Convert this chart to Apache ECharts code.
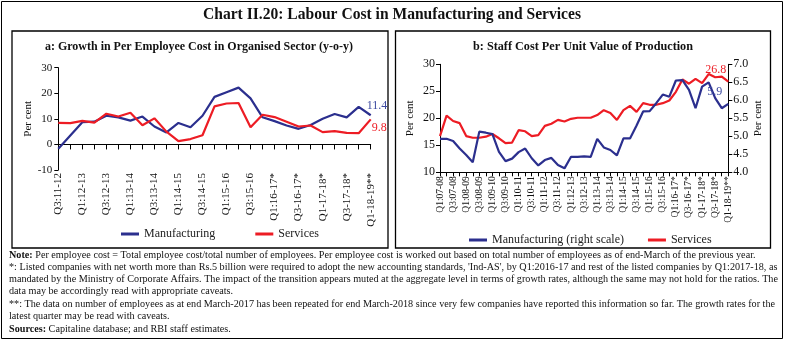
<!DOCTYPE html>
<html><head><meta charset="utf-8">
<script src="https://cdn.jsdelivr.net/npm/echarts@6/dist/echarts.min.js"></script>
<style>html,body{margin:0;padding:0;background:#fff}#c{width:785px;height:340px}</style>
</head><body><div id="c"></div>
<script>
// ---------- data ----------
const leftCategories = ['Q3:11-12','Q4:11-12','Q1:12-13','Q2:12-13','Q3:12-13','Q4:12-13','Q1:13-14','Q2:13-14','Q3:13-14','Q4:13-14','Q1:14-15','Q2:14-15','Q3:14-15','Q4:14-15','Q1:15-16','Q2:15-16','Q3:15-16','Q4:15-16','Q1:16-17*','Q2:16-17*','Q3-16-17*','Q4-16-17*','Q1-17-18*','Q2-17-18*','Q3-17-18*','Q4-17-18*','Q1-18-19**'];
const mfgGrowth = [-1.7,3.5,8.7,8.9,11.2,10.6,9.3,10.9,7.0,4.7,8.4,6.7,11.2,18.6,20.4,22.2,18.0,10.6,9.1,7.4,6.1,7.6,10.0,11.9,10.6,14.7,11.4];
const svcGrowth = [8.4,8.3,9.2,8.5,12.0,10.9,12.4,7.5,10.2,5.0,1.3,2.1,3.6,14.9,16.0,16.2,6.7,11.6,10.7,8.9,7.0,7.4,4.8,5.2,4.5,4.4,9.8];

const rightCategories = ['Q1:07-08','Q2:07-08','Q3:07-08','Q4:07-08','Q1:08-09','Q2:08-09','Q3:08-09','Q4:08-09','Q1:09-10','Q2:09-10','Q3:09-10','Q4:09-10','Q1:10-11','Q2:10-11','Q3:10-11','Q4:10-11','Q1:11-12','Q2:11-12','Q3:11-12','Q4:11-12','Q1:12-13','Q2:12-13','Q3:12-13','Q4:12-13','Q1:13-14','Q2:13-14','Q3:13-14','Q4:13-14','Q1:14-15','Q2:14-15','Q3:14-15','Q4:14-15','Q1:15-16','Q2:15-16','Q3:15-16','Q4:15-16','Q1:16-17*','Q2:16-17*','Q3-16-17*','Q4-16-17*','Q1-17-18*','Q2-17-18*','Q3-17-18*','Q4-17-18*','Q1-18-19**'];
const svcStaffCost = [16.7,20.5,19.5,19.1,16.7,16.4,16.4,16.6,17.1,16.3,15.4,15.5,17.8,17.6,16.7,16.9,18.6,19.0,19.7,19.4,19.9,20.1,20.1,20.1,20.6,21.5,21.0,19.7,21.5,22.3,21.2,22.8,22.5,22.5,22.8,23.3,24.9,27.2,26.4,27.3,26.5,28.2,27.6,27.7,26.8];
const mfgStaffCost = [4.93,4.93,4.87,4.66,4.48,4.28,5.13,5.10,5.06,4.57,4.31,4.38,4.56,4.66,4.39,4.19,4.34,4.40,4.20,4.11,4.43,4.43,4.44,4.43,4.93,4.69,4.62,4.47,4.94,4.94,5.30,5.69,5.70,5.92,6.16,6.10,6.55,6.56,6.29,5.78,6.38,6.50,6.06,5.78,5.9];

const leftYTicks = {min:-10, max:30, interval:10};
const rightYTicksL = {min:10, max:30, interval:5};
const rightYTicksR = {min:4.0, max:7.0, interval:0.5};

const titleText = 'Chart II.20: Labour Cost in Manufacturing and Services';
const panelATitle = 'a: Growth in Per Employee Cost in Organised Sector (y-o-y)';
const panelBTitle = 'b: Staff Cost Per Unit Value of Production';
const noteLines = [
  '{b|Note:} Per employee cost = Total employee cost/total number of employees. Per employee cost is worked out based on total number of employees as of end-March of the previous year.',
  "*: Listed companies with net worth more than Rs.5 billion were required to adopt the new accounting standards, 'Ind-AS', by Q1:2016-17 and rest of the listed companies by Q1:2017-18, as",
  'mandated by the Ministry of Corporate Affairs. The impact of the transition appears muted at the aggregate level in terms of growth rates, although the same may not hold for the ratios. The',
  'data may be accordingly read with appropriate caveats.',
  '**: The data on number of employees as at end March-2017 has been repeated for end March-2018 since very few companies have reported this information so far. The growth rates for the',
  'latest quarter may be read with caveats.',
  '{b|Sources:} Capitaline database; and RBI staff estimates.'
];

// ---------- style ----------
const FF = '"Liberation Serif", "DejaVu Serif", serif';
const BLUE = '#2b2f8e';
const RED = '#ed1c24';
const BLUE_TXT = '#3d4aa0';
const INK = '#111';

const mc = document.createElement('canvas').getContext('2d');
function fitScale(text, size, weight, target){
  mc.font = (weight||'normal') + ' ' + size + 'px ' + FF;
  return target / mc.measureText(text).width;
}
const noteSize = 10;
const noteScale = fitScale(noteLines[4], noteSize, 'normal', 766);

function endLbl(color, offset){
  return {show:true, formatter:p=>Number(p.value).toFixed(1), color:color, fontFamily:FF, fontSize:12, align:'left', verticalAlign:'middle', distance:5, offset:offset};
}

const graphics = [
  {type:'rect', shape:{x:1.5,y:1.5,width:781,height:337}, style:{fill:'none', stroke:'#000', lineWidth:1}, silent:true},
  {type:'rect', shape:{x:12,y:31,width:376,height:217}, style:{fill:'none', stroke:'#000', lineWidth:1.3}, silent:true},
  {type:'rect', shape:{x:395.5,y:31,width:375,height:217}, style:{fill:'none', stroke:'#000', lineWidth:1.3}, silent:true},
  {type:'text', x:392, y:15, scaleX:fitScale(titleText,16,'bold',378), style:{text:titleText, x:0, y:0, textAlign:'center', textVerticalAlign:'middle', fontFamily:FF, fontSize:16, fontWeight:'bold', fill:'#111'}},
  {type:'text', x:199, y:47, scaleX:fitScale(panelATitle,12,'bold',308), style:{text:panelATitle, x:0, y:0, textAlign:'center', textVerticalAlign:'middle', fontFamily:FF, fontSize:12, fontWeight:'bold', fill:'#111'}},
  {type:'text', x:583, y:47, scaleX:fitScale(panelBTitle,12,'bold',220), style:{text:panelBTitle, x:0, y:0, textAlign:'center', textVerticalAlign:'middle', fontFamily:FF, fontSize:12, fontWeight:'bold', fill:'#111'}}
];
const noteY = [255, 267, 279, 291, 304, 316, 329];
noteLines.forEach((t,i)=>{
  graphics.push({type:'text', x:9, y:noteY[i], scaleX:noteScale, style:{text:t, x:0, y:0, textVerticalAlign:'middle', fontFamily:FF, fontSize:noteSize, fill:'#111', rich:{b:{fontWeight:'bold', fontFamily:FF, fontSize:noteSize, fill:'#111'}}}});
});

const option = {
  animation:false,
  backgroundColor:'#fff',
  textStyle:{fontFamily:FF},
  graphic: graphics,
  grid:[
    {left:58.3, top:67.7, width:312.4, height:102.3},
    {left:440, top:64.3, width:288.3, height:108}
  ],
  legend:[
    {data:['Manufacturing','Services'], left:121, top:228, padding:0, icon:'rect', itemWidth:18, itemHeight:3, itemGap:40,
      textStyle:{fontFamily:FF, fontSize:12, color:'#222'}},
    {data:['Manufacturing (right scale)','Services'], left:469, top:234, padding:0, icon:'rect', itemWidth:18, itemHeight:3, itemGap:24,
      textStyle:{fontFamily:FF, fontSize:12, color:'#222'}}
  ],
  xAxis:[
    {gridIndex:0, type:'category', data:leftCategories, boundaryGap:false,
      axisLine:{show:true, onZero:true, lineStyle:{color:'#000', width:1}},
      axisTick:{show:true, interval:0, length:5, lineStyle:{color:'#000'}},
      axisLabel:{show:false}, splitLine:{show:false}},
    {gridIndex:0, type:'category', data:leftCategories, boundaryGap:false, position:'bottom',
      axisLine:{show:false, onZero:false}, axisTick:{show:false},
      axisLabel:{show:true, interval:1, rotate:90, margin:3, fontFamily:FF, fontSize:11, color:INK}, splitLine:{show:false}},
    {gridIndex:1, type:'category', data:rightCategories, boundaryGap:false,
      axisLine:{show:true, onZero:false, lineStyle:{color:'#000', width:1}},
      axisTick:{show:true, interval:0, length:4, lineStyle:{color:'#000'}},
      axisLabel:{show:true, interval:1, rotate:90, margin:4, fontFamily:FF, fontSize:9.5, color:INK}, splitLine:{show:false}}
  ],
  yAxis:[
    {gridIndex:0, type:'value', min:leftYTicks.min, max:leftYTicks.max, interval:leftYTicks.interval,
      name:'Per cent', nameLocation:'middle', nameRotate:90, nameGap:24.5, nameTextStyle:{fontFamily:FF, fontSize:11, color:INK},
      axisLine:{show:true, lineStyle:{color:'#000', width:1}}, axisTick:{show:true, length:4, lineStyle:{color:'#000'}},
      axisLabel:{margin:6, fontFamily:FF, fontSize:11, color:INK}, splitLine:{show:false}},
    {gridIndex:1, type:'value', position:'left', min:rightYTicksL.min, max:rightYTicksL.max, interval:rightYTicksL.interval,
      name:'Per cent', nameLocation:'middle', nameRotate:90, nameGap:24, nameTextStyle:{fontFamily:FF, fontSize:11, color:INK},
      axisLine:{show:true, lineStyle:{color:'#000', width:1}}, axisTick:{show:true, length:4, lineStyle:{color:'#000'}},
      axisLabel:{margin:5, fontFamily:FF, fontSize:12, color:INK}, splitLine:{show:false}},
    {gridIndex:1, type:'value', position:'right', min:rightYTicksR.min, max:rightYTicksR.max, interval:rightYTicksR.interval,
      name:'Per cent', nameLocation:'middle', nameRotate:90, nameGap:23, nameTextStyle:{fontFamily:FF, fontSize:11, color:INK},
      axisLine:{show:true, lineStyle:{color:'#000', width:1}}, axisTick:{show:true, length:4, lineStyle:{color:'#000'}},
      axisLabel:{margin:5, fontFamily:FF, fontSize:12, color:INK, formatter:v=>v.toFixed(1)}, splitLine:{show:false}}
  ],
  series:[
    {name:'Manufacturing', type:'line', xAxisIndex:0, yAxisIndex:0, data:mfgGrowth,
      showSymbol:false, lineStyle:{color:BLUE, width:2.2}, itemStyle:{color:BLUE}, endLabel:endLbl(BLUE_TXT,[-9,-9])},
    {name:'Services', type:'line', xAxisIndex:0, yAxisIndex:0, data:svcGrowth,
      showSymbol:false, lineStyle:{color:RED, width:2.2}, itemStyle:{color:RED}, endLabel:endLbl(RED,[-4,8])},
    {name:'Services', type:'line', xAxisIndex:2, yAxisIndex:1, data:svcStaffCost,
      showSymbol:false, lineStyle:{color:RED, width:2.2}, itemStyle:{color:RED}, endLabel:endLbl(RED,[-28,-12])},
    {name:'Manufacturing (right scale)', type:'line', xAxisIndex:2, yAxisIndex:2, data:mfgStaffCost,
      showSymbol:false, lineStyle:{color:BLUE, width:2.2}, itemStyle:{color:BLUE}, endLabel:endLbl(BLUE_TXT,[-26,-12])}
  ]
};
const chart = echarts.init(document.getElementById('c'), null, {renderer:'canvas'});
chart.setOption(option);
</script>
</body></html>
